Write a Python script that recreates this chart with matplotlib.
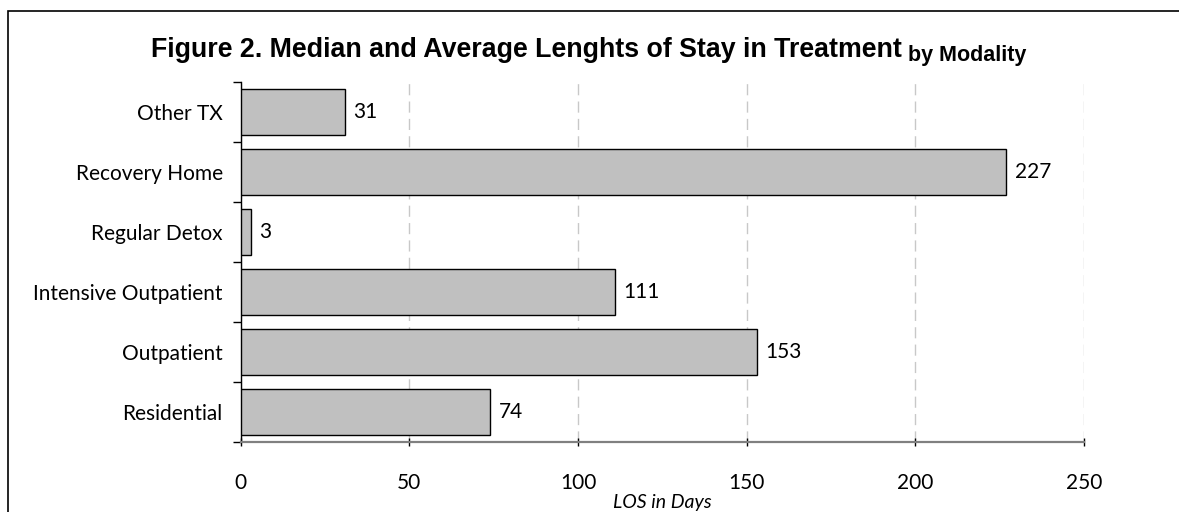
import matplotlib
matplotlib.use('Agg')
import matplotlib.pyplot as plt
from matplotlib.ticker import FixedLocator
from matplotlib.patches import Rectangle

# data, bottom to top
modalities = ['Residential', 'Outpatient', 'Intensive Outpatient',
              'Regular Detox', 'Recovery Home', 'Other TX']
los_days = [74, 153, 111, 3, 227, 31]
x_ticks = [0, 50, 100, 150, 200, 250]

lab_font = 'Lato'
title_font = 'Liberation Sans'

fig = plt.figure(figsize=(11.79, 5.12), dpi=100)
ax = fig.add_axes([0.2042, 0.1367, 0.7152, 0.7031])

ypos = list(range(len(modalities)))
bars = ax.barh(ypos, los_days, height=0.78, color='#C0C0C0',
               edgecolor='black', linewidth=1.0, zorder=3)

for y, v in zip(ypos, los_days):
    ax.annotate(str(v), (v, y), xytext=(6, 0), textcoords='offset points',
                va='center', ha='left', fontsize=15, family=lab_font)

ax.set_xlim(0, 250)
ax.set_ylim(-0.5, len(modalities) - 0.5)
ax.set_xticks(x_ticks)
ax.set_xticklabels([str(t) for t in x_ticks], fontsize=15, family=lab_font)
ax.set_yticks(ypos)
ax.set_yticklabels(modalities, fontsize=15, family=lab_font)
ax.yaxis.set_minor_locator(FixedLocator([i - 0.5 for i in range(len(modalities) + 1)]))
ax.tick_params(axis='y', which='major', length=0, pad=13)
ax.tick_params(axis='y', which='minor', length=6, width=1, color='black', direction='out')
ax.tick_params(axis='x', which='major', length=6, width=1, color='black',
               direction='inout', pad=19)

ax.grid(axis='x', color='#C8C8C8', linestyle=(0, (8, 4.5)), linewidth=1.0, zorder=0)
for s in ['top', 'right']:
    ax.spines[s].set_visible(False)
ax.spines['left'].set_color('black')
ax.spines['left'].set_linewidth(1.0)
ax.spines['bottom'].set_color('#808080')
ax.spines['bottom'].set_linewidth(1.6)

ax.set_xlabel('LOS in Days', fontsize=14, family=lab_font, style='italic', labelpad=1)

# title in two parts
t1 = fig.text(151 / 1179, 1 - 57 / 512, 'Figure 2. Median and Average Lenghts of Stay in Treatment',
              fontsize=19.3, fontweight='bold', family=title_font, ha='left', va='baseline')
fig.canvas.draw()
bb = t1.get_window_extent()
fig.text((bb.x1 + 6) / 1179, 1 - 61 / 512, 'by Modality', fontsize=15.5,
         fontweight='bold', family=title_font, ha='left', va='baseline')

# outer chart frame
fig.patches.append(Rectangle((8 / 1179, -0.1), 1.2, 1 - 11 / 512 + 0.1,
                             transform=fig.transFigure, fill=False,
                             edgecolor='black', linewidth=1.2))

fig.savefig('out.png', dpi=100)
